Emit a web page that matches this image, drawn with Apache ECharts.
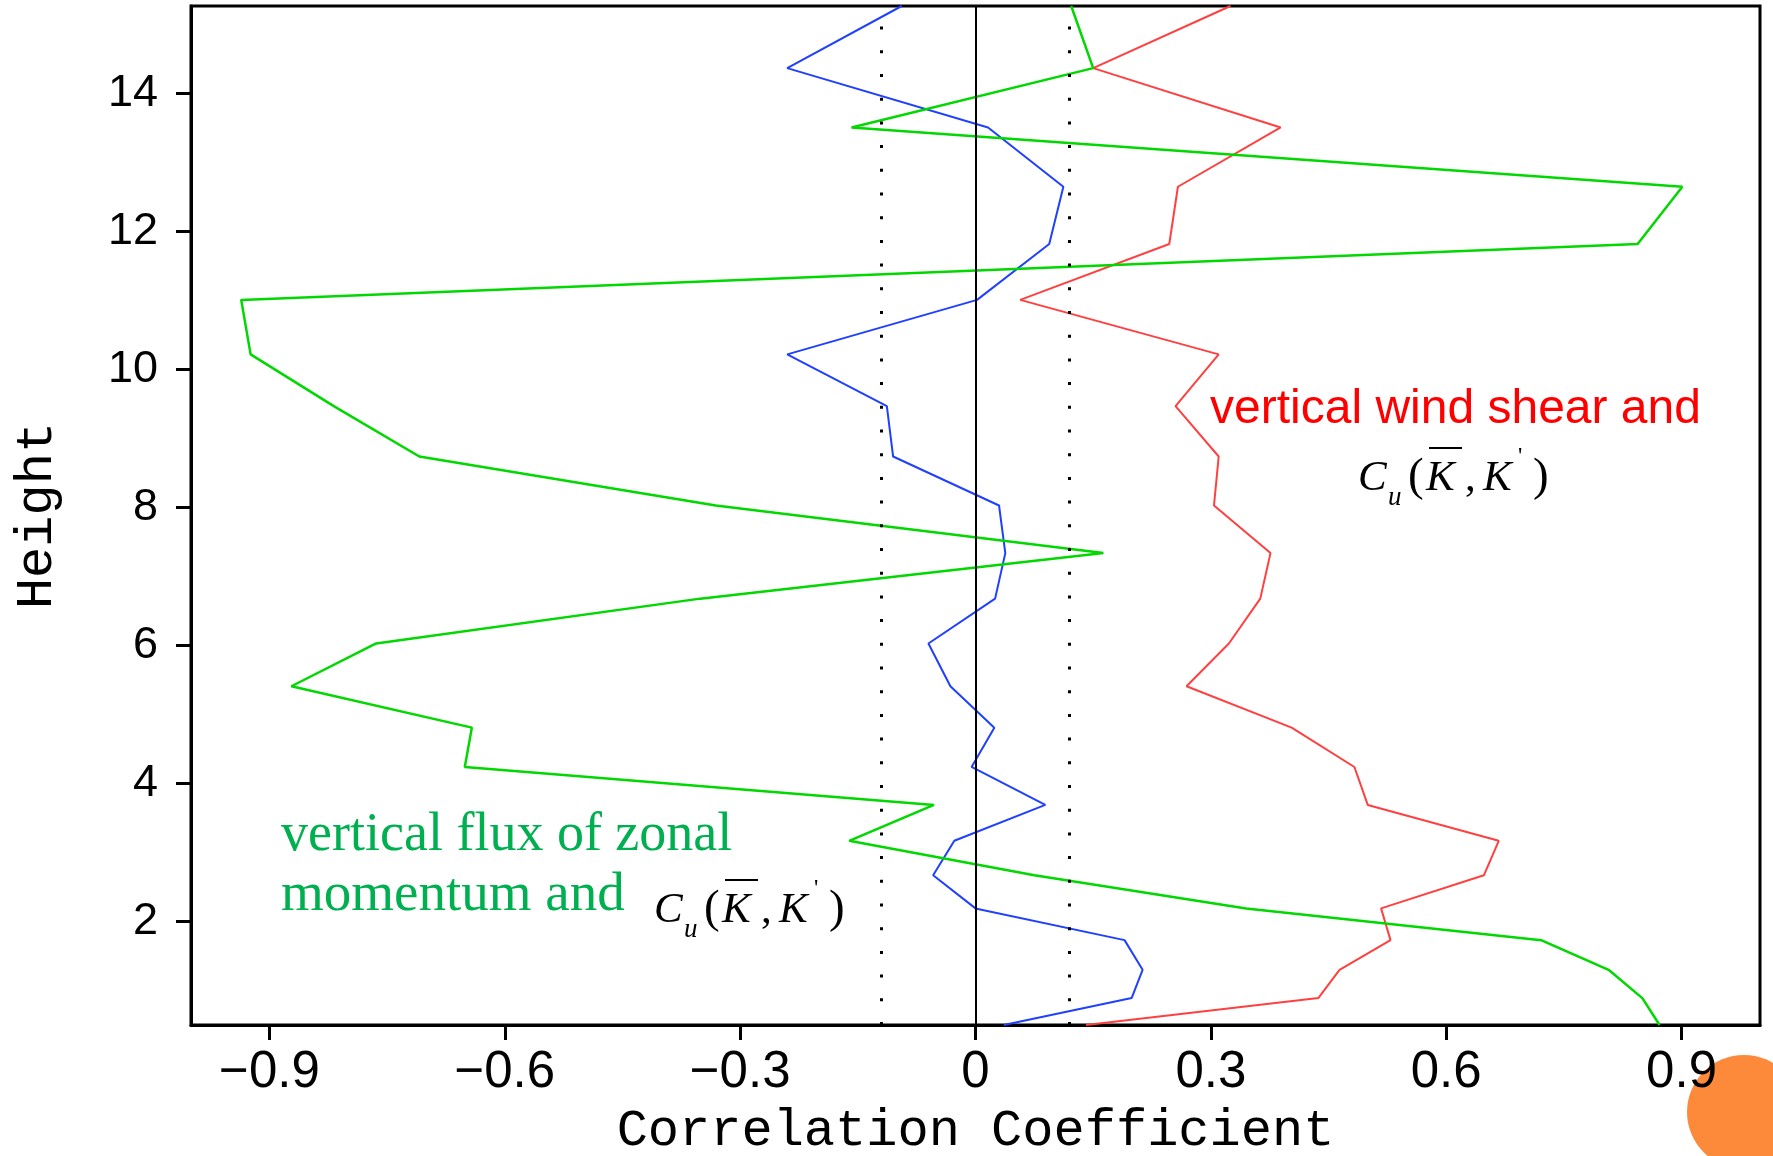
<!DOCTYPE html>
<html>
<head>
<meta charset="utf-8">
<script src="https://cdn.jsdelivr.net/npm/echarts@6/dist/echarts.min.js"></script>
<style>
  html, body { margin: 0; padding: 0; background: #fff; }
  #main { width: 1773px; height: 1156px; }
</style>
</head>
<body>
<div id="main"></div>
<script>
// model levels (height) shared by the three profiles
var heights = [0.5, 0.89, 1.30, 1.73, 2.19, 2.67, 3.17, 3.69, 4.24, 4.81, 5.41, 6.03,
               6.68, 7.34, 8.03, 8.74, 9.47, 10.22, 11.01, 11.82, 12.65, 13.51, 14.37, 15.27];

var blueCorr = [0.036, 0.199, 0.213, 0.190, 0.000, -0.054, -0.027, 0.089, -0.005, 0.024, -0.032, -0.060,
                0.025, 0.038, 0.030, -0.105, -0.113, -0.240, 0.002, 0.094, 0.112, 0.016, -0.240, -0.094];

var windShear = [0.141, 0.437, 0.464, 0.529, 0.517, 0.648, 0.667, 0.500, 0.483, 0.403, 0.269, 0.323,
                 0.363, 0.376, 0.304, 0.310, 0.255, 0.310, 0.057, 0.247, 0.258, 0.389, 0.150, 0.325];

var zonalFlux = [0.872, 0.850, 0.807, 0.721, 0.345, 0.075, -0.161, -0.053, -0.651, -0.642, -0.872, -0.764,
                 -0.351, 0.163, -0.331, -0.709, -0.818, -0.924, -0.936, 0.844, 0.901, -0.158, 0.150, 0.122];

var xTicks = [-0.9, -0.6, -0.3, 0, 0.3, 0.6, 0.9];
var yTicks = [2, 4, 6, 8, 10, 12, 14];
var signif = 0.117;

function pairs(vals) {
  return vals.map(function (v, i) { return [v, heights[i]]; });
}

// C_u( K-bar , K' ) drawn as a small group of text pieces
function formula(x, base) {
  var serif = 'Liberation Serif';
  function t(dx, dy, s, size, italic) {
    return {
      type: 'text', x: x + dx, y: base + dy,
      style: {
        text: s, fill: '#000', font: (italic ? 'italic ' : '') + size + 'px "' + serif + '"',
        verticalAlign: 'middle', align: 'left'
      }
    };
  }
  return {
    type: 'group',
    children: [
      t(0, -14, 'C', 43, true),
      t(30, 5, 'u', 27, true),
      t(50, -15, '(', 47, false),
      t(68, -14, 'K', 43, true),
      { type: 'line', shape: { x1: x + 71, y1: base - 45, x2: x + 104, y2: base - 45 },
        style: { stroke: '#000', lineWidth: 2 } },
      t(107, -14, ',', 43, false),
      t(125, -14, 'K', 43, true),
      t(160, -36, '\'', 24, false),
      t(175, -15, ')', 47, false)
    ]
  };
}

var myChart = echarts.init(document.getElementById('main'));
var option = {
  animation: false,
  backgroundColor: '#fff',
  grid: {
    left: 191, right: 13, top: 6, bottom: 131,
    outerBoundsMode: 'none',
    show: true, borderColor: '#000', borderWidth: 3
  },
  xAxis: {
    type: 'value', min: -1, max: 1,
    name: 'Correlation Coefficient', nameLocation: 'middle', nameGap: 80,
    nameTextStyle: { fontFamily: 'Liberation Mono', fontSize: 52, color: '#000' },
    axisLine: { show: true, onZero: false, lineStyle: { color: '#000', width: 3 } },
    axisTick: { show: true, customValues: xTicks, length: 15, lineStyle: { color: '#000', width: 3 } },
    axisLabel: {
      customValues: xTicks, margin: 22, fontFamily: 'Liberation Sans', fontSize: 51, color: '#000',
      formatter: function (v) { return v === 0 ? '0' : v.toFixed(1).replace('-', '\u2212'); }
    },
    splitLine: { show: false }
  },
  yAxis: {
    type: 'value', min: 0.5, max: 15.27,
    name: 'Height', nameLocation: 'middle', nameGap: 128,
    nameTextStyle: { fontFamily: 'Liberation Mono', fontSize: 52, color: '#000' },
    axisLine: { show: true, onZero: false, lineStyle: { color: '#000', width: 3 } },
    axisTick: { show: true, customValues: yTicks, length: 15, lineStyle: { color: '#000', width: 3 } },
    axisLabel: { customValues: yTicks, margin: 33, fontFamily: 'Liberation Sans', fontSize: 45, color: '#000' },
    splitLine: { show: false }
  },
  series: [
    {
      name: 'blue', type: 'line', data: pairs(blueCorr), symbol: 'none',
      lineStyle: { color: '#2040ff', width: 2 },
      markLine: {
        silent: true, symbol: 'none', label: { show: false },
        data: [
          { xAxis: 0, lineStyle: { color: '#000', width: 2, type: 'solid' } },
          { xAxis: -signif, lineStyle: { color: '#000', width: 3, type: [3, 20.7] } },
          { xAxis: signif, lineStyle: { color: '#000', width: 3, type: [3, 20.7] } }
        ]
      }
    },
    {
      name: 'red', type: 'line', data: pairs(windShear), symbol: 'none',
      lineStyle: { color: '#ff4040', width: 2 }
    },
    {
      name: 'green', type: 'line', data: pairs(zonalFlux), symbol: 'none',
      lineStyle: { color: '#00d800', width: 2.5 }
    }
  ],
  graphic: [
    { type: 'text', x: 1210, y: 410,
      style: { text: 'vertical wind shear and', fill: '#ff0000', font: '48px "Liberation Sans"', verticalAlign: 'middle' } },
    formula(1358, 493),
    { type: 'text', x: 281, y: 836,
      style: { text: 'vertical flux of zonal', fill: '#00b050', font: '54px "Liberation Serif"', verticalAlign: 'middle' } },
    { type: 'text', x: 281, y: 896,
      style: { text: 'momentum and', fill: '#00b050', font: '55px "Liberation Serif"', verticalAlign: 'middle' } },
    formula(654, 925),
    { type: 'circle', shape: { cx: 1744, cy: 1112, r: 57 }, style: { fill: '#fd8a3a' } }
  ]
};
myChart.setOption(option);
</script>
</body>
</html>
